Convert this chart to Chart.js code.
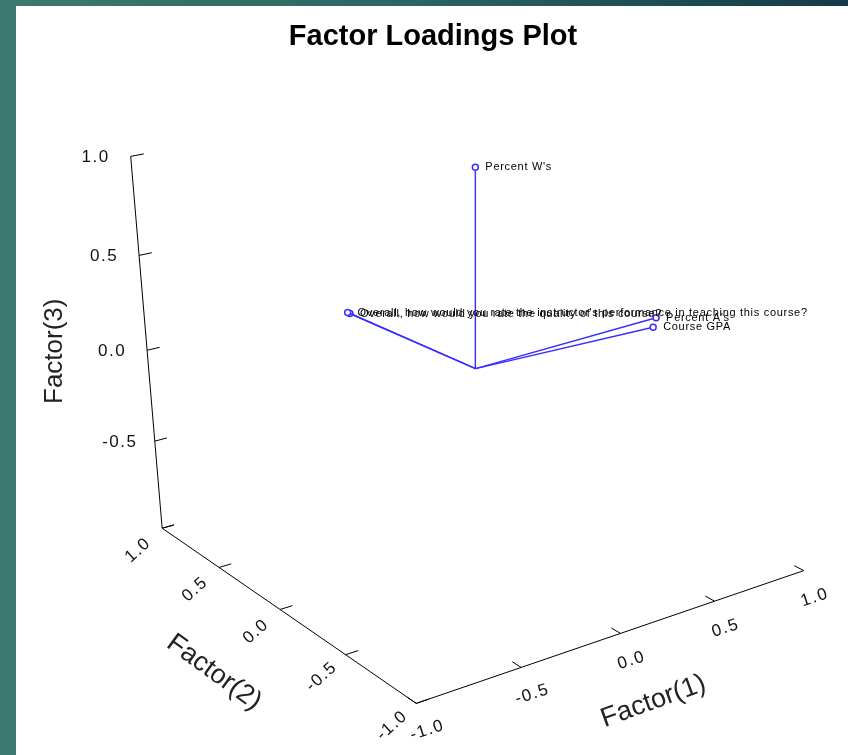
<!DOCTYPE html>
<html>
<head>
<meta charset="utf-8">
<script src="https://cdn.jsdelivr.net/npm/chart.js@4.4.0/dist/chart.umd.min.js"></script>
<style>
html, body { margin: 0; padding: 0; width: 848px; height: 755px; overflow: hidden;
  background: linear-gradient(to right, #3c7a70 0%, #2d6764 45%, #143b47 100%); }
#wrap { position: absolute; left: 16px; top: 6px; width: 832px; height: 749px; background: #fff; }
</style>
</head>
<body>
<div id="wrap"><canvas id="chart" width="832" height="749"></canvas></div>
<script>
const variables = ["Percent W's", "Percent A's", "Course GPA",
    "Overall, how would you rate the instructor's performance in teaching this course?",
    "Overall, how would you rate the quality of this course?"];
const factor1 = [0.05, 0.97, 0.955, -0.10, -0.09];
const factor2 = [0.06, 0.0, 0.0, 0.826, 0.823];
const factor3 = [0.995, 0.024, -0.025, 0.037, 0.03];
const tickValues = [-1, -0.5, 0, 0.5, 1];
const tickLabels = ["-1.0", "-0.5", "0.0", "0.5", "1.0"];

// perspective camera (3x4 projective matrix, screen coords normalised around 450 / 300)
const cam = [0.66481, -0.46417, -0.00935, 0.08719,
             -0.18490, -0.25332, -0.62516, -0.27193,
             0.05259, 0.07153, -0.04370];

function project(f1, f2, f3) {
    const w = cam[8] * f1 + cam[9] * f2 + cam[10] * f3 + 1;
    return {
        x: (cam[0] * f1 + cam[1] * f2 + cam[2] * f3 + cam[3]) / w * 300 + 450,
        y: (cam[4] * f1 + cam[5] * f2 + cam[6] * f3 + cam[7]) / w * 300 + 450
    };
}

const black = "#000";
const blue = "#3a2cff";
const datasets = [];

function segment(a, b, color, width) {
    datasets.push({
        data: [project(...a), project(...b)],
        showLine: true, borderColor: color, borderWidth: width,
        pointRadius: 0, clip: false
    });
}

// box axes
segment([-1, -1, -1], [1, -1, -1], black, 1);
segment([-1, -1, -1], [-1, 1, -1], black, 1);
segment([-1, 1, -1], [-1, 1, 1], black, 1);
tickValues.forEach(t => {
    segment([t, -1, -1], [t, -0.94, -1], black, 1);
    segment([-1, t, -1], [-0.94, t, -1], black, 1);
    segment([-1, 1, t], [-0.94, 1, t], black, 1);
});

// loading vectors from the origin
variables.forEach((name, i) => {
    datasets.push({
        data: [project(0, 0, 0), project(factor1[i], factor2[i], factor3[i])],
        showLine: true, borderColor: blue, borderWidth: 1.4,
        pointRadius: ctx => ctx.dataIndex === 1 ? 3 : 0,
        pointBackgroundColor: "#fff", pointBorderColor: blue, pointBorderWidth: 1.5,
        clip: false
    });
});

function px(chart, p) {
    return { x: chart.scales.x.getPixelForValue(p.x), y: chart.scales.y.getPixelForValue(p.y) };
}
function text(ctx, str, p, font, color, angle, align, spacing) {
    ctx.save();
    ctx.translate(p.x, p.y);
    ctx.rotate(angle * Math.PI / 180);
    ctx.font = font;
    ctx.fillStyle = color;
    ctx.textAlign = align;
    ctx.textBaseline = "middle";
    ctx.letterSpacing = spacing || "0px";
    ctx.fillText(str, 0, 0);
    ctx.restore();
}
function shift(p, dx, dy) { return { x: p.x + dx, y: p.y + dy }; }

const labels3d = {
    id: "labels3d",
    afterDatasetsDraw(chart) {
        const ctx = chart.ctx;
        text(ctx, "Factor Loadings Plot", px(chart, { x: 433, y: 32 }), "bold 29px Arial, 'Liberation Sans'", "#000", 0, "center");
        const tf = "17px Arial, 'Liberation Sans'";
        tickValues.forEach((t, k) => {
            text(ctx, tickLabels[k], shift(px(chart, project(t, -1, -1)), 11, 27), tf, "#111", -18, "center", "1.5px");
            text(ctx, tickLabels[k], shift(px(chart, project(-1, t, -1)), -24, 22), tf, "#111", -42, "center", "1.5px");
            if (t > -1) text(ctx, tickLabels[k], shift(px(chart, project(-1, 1, t)), -35, 1), tf, "#111", 0, "center", "1.5px");
        });
        text(ctx, "Factor(1)", shift(px(chart, project(0, -1, -1)), 33, 68), "27px Arial, 'Liberation Sans'", "#222", -20, "center");
        text(ctx, "Factor(2)", shift(px(chart, project(-1, 0, -1)), -66, 63), "27px Arial, 'Liberation Sans'", "#222", 36, "center");
        text(ctx, "Factor(3)", shift(px(chart, project(-1, 1, 0)), -92, 1), "26px Arial, 'Liberation Sans'", "#222", -90, "center");
        const lf = "11px Arial, 'Liberation Sans'";
        variables.forEach((name, i) => {
            const tip = px(chart, project(factor1[i], factor2[i], factor3[i]));
            text(ctx, name, shift(tip, 10, 0), lf, "#000", 0, "left", "0.7px");
        });
    }
};

new Chart(document.getElementById("chart").getContext("2d"), {
    type: "scatter",
    data: { datasets },
    options: {
        responsive: false,
        animation: false,
        events: [],
        layout: { padding: 0 },
        plugins: { legend: { display: false }, tooltip: { enabled: false }, title: { display: false } },
        scales: {
            x: { type: "linear", min: 16, max: 848, display: false },
            y: { type: "linear", min: 6, max: 755, reverse: true, display: false }
        }
    },
    plugins: [labels3d]
});
</script>
</body>
</html>
